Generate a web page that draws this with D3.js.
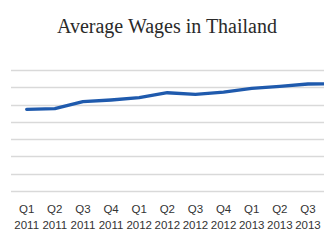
<!DOCTYPE html>
<html>
<head>
<meta charset="utf-8">
<script src="https://cdn.jsdelivr.net/npm/d3@7"></script>
<style>
  body { margin: 0; background: #fff; overflow: hidden; }
  svg { display: block; }
</style>
</head>
<body>
<div id="chart"></div>
<script>
// quarters (Q4 2013 runs off the right edge, its labels are not shown)
const quarters = ["Q1", "Q2", "Q3", "Q4", "Q1", "Q2", "Q3", "Q4", "Q1", "Q2", "Q3", "Q4"];
const years = ["2011", "2011", "2011", "2011", "2012", "2012", "2012", "2012", "2013", "2013", "2013", "2013"];
const wages = [9450, 9520, 10330, 10530, 10800, 11370, 11190, 11450, 11880, 12110, 12380, 12420];
const yTicks = [0, 2000, 4000, 6000, 8000, 10000, 12000, 14000];

const width = 324, height = 240;
const svg = d3.select("#chart").append("svg")
  .attr("width", width)
  .attr("height", height);

const idx = d3.range(wages.length);

const x = d3.scaleBand()
  .domain(idx)
  .range([12.6, 12.6 + 28.13 * wages.length]);

const y = d3.scaleLinear()
  .domain([0, 14000])
  .range([191, 70]);

const cx = i => x(i) + x.bandwidth() / 2;

// title
svg.append("text")
  .attr("x", 167)
  .attr("y", 33)
  .attr("text-anchor", "middle")
  .attr("font-family", "'Liberation Serif', 'DejaVu Serif', serif")
  .attr("font-size", 20)
  .attr("fill", "#2a2a2a")
  .text("Average Wages in Thailand");

// gridlines
svg.append("g")
  .selectAll("line")
  .data(yTicks)
  .enter().append("line")
  .attr("x1", 11)
  .attr("x2", width)
  .attr("y1", d => Math.round(y(d)) + 0.5)
  .attr("y2", d => Math.round(y(d)) + 0.5)
  .attr("stroke", "#d9d9d9")
  .attr("stroke-width", 1.3);

// category labels, only the ones inside the frame
const shown = idx.filter(i => cx(i) + 12 <= width);

const labels = svg.append("g")
  .attr("font-family", "'Liberation Sans', Arial, sans-serif")
  .attr("font-size", 11.5)
  .attr("fill", "#333")
  .attr("text-anchor", "middle");

labels.selectAll("text.q")
  .data(shown)
  .enter().append("text")
  .attr("class", "q")
  .attr("x", cx)
  .attr("y", 213)
  .text(i => quarters[i]);

labels.selectAll("text.yr")
  .data(shown)
  .enter().append("text")
  .attr("class", "yr")
  .attr("x", cx)
  .attr("y", 229)
  .text(i => years[i]);

// wage line
const line = d3.line()
  .x(cx)
  .y(i => y(wages[i]));

svg.append("path")
  .datum(idx)
  .attr("d", line)
  .attr("fill", "none")
  .attr("stroke", "#1f5aad")
  .attr("stroke-width", 3.3)
  .attr("stroke-linejoin", "round")
  .attr("stroke-linecap", "round");
</script>
</body>
</html>
